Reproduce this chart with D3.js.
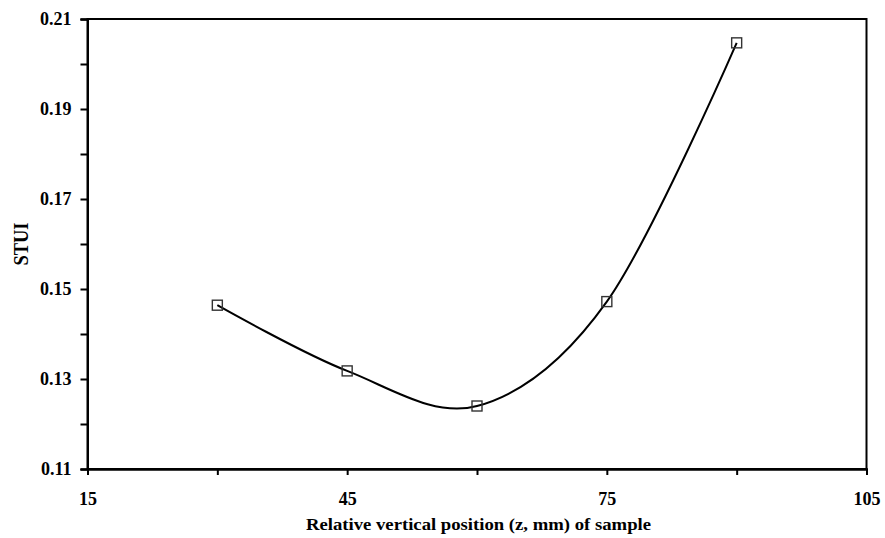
<!DOCTYPE html>
<html><head><meta charset="utf-8">
<script src="https://cdn.jsdelivr.net/npm/d3@7"></script>
<style>body{margin:0;background:#fff}svg{display:block}</style>
</head><body>
<script>
const xValues = [30, 45, 60, 75, 90];
const stui = [0.1464, 0.1318, 0.1240, 0.1472, 0.2047];
const xTicks = [15, 45, 75, 105];
const xMinorTicks = [30, 60, 90];
const yTicks = [0.11, 0.13, 0.15, 0.17, 0.19, 0.21];
const yMinorTicks = [0.12, 0.14, 0.16, 0.18, 0.20];

const W = 885, H = 538;
const L = 87.5, R = 866.5, T = 19, B = 469;
const svg = d3.select("body").append("svg").attr("width", W).attr("height", H);
const x = d3.scaleLinear().domain([15, 105]).range([L, R]);
const y = d3.scaleLinear().domain([0.11, 0.21]).range([B, T]);
const font = "'Liberation Serif', 'Times New Roman', serif";

// frame
svg.append("rect").attr("x", L).attr("y", T).attr("width", R - L).attr("height", B - T)
  .attr("fill", "none").attr("stroke", "#000").attr("stroke-width", 2);

// y axis
const yAxis = svg.append("g").attr("transform", `translate(${L},0)`);
yAxis.call(d3.axisLeft(y).tickValues(yTicks).tickFormat(d3.format(".2f")).tickSize(7).tickPadding(9));
yAxis.append("g").call(d3.axisLeft(y).tickValues(yMinorTicks).tickFormat("").tickSize(7));
// x axis
const xAxis = svg.append("g").attr("transform", `translate(0,${B})`);
xAxis.call(d3.axisBottom(x).tickValues(xTicks).tickFormat(d3.format("d")).tickSize(6).tickPadding(17));
xAxis.append("g").call(d3.axisBottom(x).tickValues(xMinorTicks).tickFormat("").tickSize(6));
svg.selectAll(".domain").attr("stroke", "#000").attr("stroke-width", 2);
svg.selectAll(".tick line").attr("stroke", "#000").attr("stroke-width", 2);
svg.selectAll(".tick text").attr("font-family", font).attr("font-weight", "bold")
  .attr("font-size", 18).attr("fill", "#000");

// curve
const pts = xValues.map((v, i) => [v, stui[i]]);
svg.append("path").datum(pts)
  .attr("d", d3.line().x(d => x(d[0])).y(d => y(d[1])).curve(d3.curveCardinal.tension(0)))
  .attr("fill", "none").attr("stroke", "#000").attr("stroke-width", 2);

// markers
svg.selectAll("rect.m").data(pts).enter().append("rect").attr("class", "m")
  .attr("x", d => x(d[0]) - 5).attr("y", d => y(d[1]) - 5)
  .attr("width", 10).attr("height", 10)
  .attr("fill", "none").attr("stroke", "#333").attr("stroke-width", 1.4);

// titles
svg.append("text").attr("x", 478.5).attr("y", 530).attr("text-anchor", "middle")
  .attr("font-family", font).attr("font-weight", "bold").attr("font-size", 17)
  .attr("textLength", 345).attr("lengthAdjust", "spacingAndGlyphs")
  .text("Relative vertical position (z, mm) of sample");
svg.append("text").attr("transform", `translate(28,244) rotate(-90)`)
  .attr("text-anchor", "middle")
  .attr("font-family", font).attr("font-weight", "bold").attr("font-size", 21)
  .attr("textLength", 43).attr("lengthAdjust", "spacingAndGlyphs")
  .text("STUI");
</script>
</body></html>
